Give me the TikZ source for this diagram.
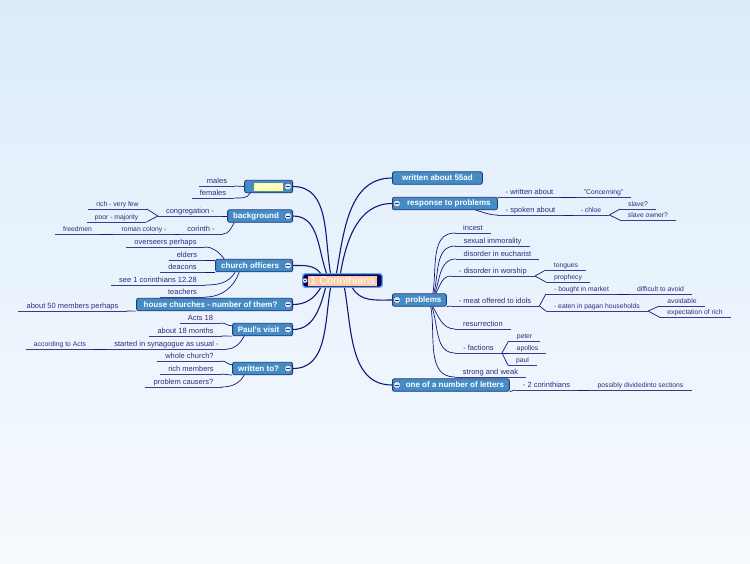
\documentclass[tikz,border=0pt]{standalone}
\usepackage{fontspec}
\setmainfont{Liberation Sans}
\usepackage{tikz}
\definecolor{bgtop}{RGB}{221, 236, 250}
\definecolor{bgbot}{RGB}{246, 250, 254}
\definecolor{ln}{RGB}{22, 22, 122}
\definecolor{lf}{RGB}{45, 45, 125}
\definecolor{bx}{RGB}{70, 140, 196}
\definecolor{bxd}{RGB}{28, 58, 128}
\definecolor{rootd}{RGB}{0, 0, 102}
\definecolor{rootb}{RGB}{105, 168, 216}
\definecolor{sal}{RGB}{255, 202, 165}
\definecolor{yl}{RGB}{255, 255, 150}
\definecolor{ic}{RGB}{222, 232, 242}

\tikzset{
  main/.style={line width=1.1pt, color=ln},
  sub/.style={line width=0.7pt, color=ln},
  ul/.style={draw=ln!85!white, line width=0.7pt},
  topic/.style={draw=bxd, fill=bx, line width=0.8pt, rounded corners=2pt, text=white,
    font=\bfseries\fontsize{8}{9}\selectfont, minimum height=12.5pt, inner sep=0pt},
  leaf/.style={font=\fontsize{7.5}{8}\selectfont, text=lf, inner xsep=8pt, inner ysep=1.2pt,
    text height=5.5pt, text depth=1.6pt, anchor=south,
    append after command={(\tikzlastnode.south west) edge[ul] (\tikzlastnode.south east)}},
  twig/.style={leaf, font=\fontsize{6.8}{7.5}\selectfont},
  fold/.style={draw=bxd, fill=ic, rounded corners=1pt, minimum size=6pt, inner sep=0pt,
    path picture={\draw[bxd, line width=0.9pt] ([xshift=1.4pt]path picture bounding box.west) -- ([xshift=-1.4pt]path picture bounding box.east);}},
}

\begin{document}
\begin{tikzpicture}
\shade[top color=bgtop, bottom color=bgbot] (0pt,0pt) rectangle (750pt,-563pt);
\useasboundingbox (0pt,0pt) rectangle (750pt,-563pt);

% central topic
\node (root) [draw=rootb, fill=rootd, line width=1.4pt, rounded corners=2.5pt, minimum width=79.5pt, minimum height=13.5pt, inner sep=0pt] at (342.5pt, -280.5pt) {};
\node (title) [fill=sal, text=white, font=\fontsize{11}{12}\selectfont, minimum width=69pt, minimum height=10pt, inner sep=0pt] at (342.5pt, -280.5pt) {1 Corinthians};
\node (rootf) [fold, minimum size=4.5pt] at (305pt, -280.5pt) {};

% left topics
\node (patrons) [topic, minimum width=48pt, anchor=east] at (293pt, -186.5pt) {};
\node (patronstxt) [fill=yl, text=white, font=\bfseries\fontsize{7}{8}\selectfont, minimum width=29pt, minimum height=8pt, inner sep=0pt] at (268.5pt, -187pt) {patrons};
\node (bg) [topic, minimum width=65pt, anchor=east] at (293pt, -216pt) {background\hspace*{8pt}};
\node (co) [topic, minimum width=77pt, anchor=east] at (293pt, -265.5pt) {church officers\hspace*{8pt}};
\node (hc) [topic, minimum width=156pt, anchor=east] at (293pt, -304.5pt) {house churches - number of them?\hspace*{8pt}};
\node (pv) [topic, minimum width=60pt, anchor=east] at (293pt, -329.5pt) {Paul's visit\hspace*{8pt}};
\node (wt) [topic, minimum width=60pt, anchor=east] at (293pt, -368.5pt) {written to?\hspace*{8pt}};
\node (patronsf) [fold] at ([xshift=-5pt]patrons.east) {};
\node (bgf) [fold] at ([xshift=-5pt]bg.east) {};
\node (cof) [fold] at ([xshift=-5pt]co.east) {};
\node (hcf) [fold] at ([xshift=-5pt]hc.east) {};
\node (pvf) [fold] at ([xshift=-5pt]pv.east) {};
\node (wtf) [fold] at ([xshift=-5pt]wt.east) {};

% right topics
\node (w55) [topic, minimum width=90pt, anchor=west] at (392pt, -178pt) {written about 55ad};
\node (rp) [topic, minimum width=105pt, anchor=west] at (392pt, -203.5pt) {\hspace*{8pt}response to problems};
\node (pr) [topic, minimum width=54pt, anchor=west] at (392pt, -300pt) {\hspace*{8pt}problems};
\node (letters) [topic, minimum width=117pt, anchor=west] at (392pt, -385pt) {\hspace*{8pt}one of a number of letters};
\node (rpf) [fold] at ([xshift=5pt]rp.west) {};
\node (prf) [fold] at ([xshift=5pt]pr.west) {};
\node (lettersf) [fold] at ([xshift=5pt]letters.west) {};

% left subtopics
\node (males) [leaf] at (217pt, -186pt) {males};
\node (females) [leaf] at (213pt, -198pt) {females};
\node (congr) [leaf] at (190pt, -216pt) {congregation -};
\node (rich) [twig] at (117.5pt, -209pt) {rich - very few};
\node (poor) [twig] at (116.5pt, -222pt) {poor - majority};
\node (corinth) [leaf] at (201pt, -234pt) {corinth -};
\node (roman) [twig] at (144pt, -234pt) {roman colony -};
\node (freedmen) [twig] at (77.5pt, -234pt) {freedmen};
\node (overseers) [leaf] at (165.5pt, -247pt) {overseers perhaps};
\node (elders) [leaf] at (187pt, -260pt) {elders};
\node (deacons) [leaf] at (182.5pt, -272pt) {deacons};
\node (cor12) [leaf] at (158pt, -285pt) {see 1 corinthians 12.28};
\node (teachers) [leaf] at (182.5pt, -297pt) {teachers};
\node (members) [leaf] at (72.5pt, -311pt) {about 50 members perhaps};
\node (acts) [leaf] at (200.5pt, -323pt) {Acts 18};
\node (months) [leaf] at (185.5pt, -336pt) {about 18 months};
\node (synagogue) [leaf] at (166.5pt, -349pt) {started in synagogue as usual -};
\node (according) [twig] at (60pt, -349pt) {according to Acts};
\node (whole) [leaf] at (189.5pt, -361pt) {whole church?};
\node (richm) [leaf] at (191pt, -374pt) {rich members};
\node (causers) [leaf] at (183.5pt, -387pt) {problem causers?};

% right subtopics
\node (wabout) [leaf] at (529.5pt, -197pt) {- written about};
\node (concern) [twig] at (603.5pt, -197pt) {"Concerning"};
\node (spoken) [leaf] at (530.5pt, -215pt) {- spoken about};
\node (chloe) [twig] at (591pt, -215pt) {- chloe};
\node (slave) [twig] at (638pt, -209pt) {slave?};
\node (owner) [twig] at (648pt, -220pt) {slave owner?};
\node (incest) [leaf] at (473pt, -233pt) {incest};
\node (sexual) [leaf] at (492.5pt, -246pt) {sexual immorality};
\node (eucharist) [leaf] at (497.5pt, -259pt) {disorder in eucharist};
\node (worship) [leaf] at (493pt, -276pt) {- disorder in worship};
\node (tongues) [twig] at (566pt, -270pt) {tongues};
\node (prophecy) [twig] at (568pt, -282pt) {prophecy};
\node (idols) [leaf] at (495pt, -306pt) {- meat offered to idols};
\node (market) [twig] at (581.5pt, -294pt) {- bought in market};
\node (difficult) [twig] at (660.5pt, -294pt) {difficult to avoid};
\node (eaten) [twig] at (597pt, -311pt) {- eaten in pagan households};
\node (avoidable) [twig] at (682pt, -306pt) {avoidable};
\node (rich2) [twig] at (695pt, -317pt) {expectation of rich};
\node (resur) [leaf] at (483pt, -329pt) {resurrection};
\node (factions) [leaf] at (478.5pt, -353pt) {- factions};
\node (peter) [twig] at (524.5pt, -341pt) {peter};
\node (apollos) [twig] at (527.5pt, -353pt) {apollos};
\node (paul) [twig] at (522.5pt, -365pt) {paul};
\node (strong) [leaf] at (490.5pt, -377pt) {strong and weak};
\node (cor2) [leaf] at (546.5pt, -390pt) {- 2 corinthians};
\node (sections) [twig] at (640.5pt, -390pt) {possibly dividedinto sections};

% main branches
\draw [main] ([xshift=-12pt]root.north) to [out=100, in=0] (patrons.east);
\draw [main] ([xshift=-16pt]root.north) to [out=110, in=0] (bg.east);
\draw [main] ([xshift=-22pt]root.north) to [out=130, in=0] (co.east);
\draw [main] ([xshift=-22pt]root.south) to [out=-120, in=0] (hc.east);
\draw [main] ([xshift=-17pt]root.south) to [out=-105, in=0] (pv.east);
\draw [main] ([xshift=-12pt]root.south) to [out=-100, in=0] (wt.east);
\draw [main] ([xshift=-6pt]root.north) to [out=80, in=180] (w55.west);
\draw [main] ([xshift=-2pt]root.north) to [out=80, in=180] (rp.west);
\draw [main] ([xshift=10pt]root.south) to [out=-60, in=180] (pr.west);
\draw [main] ([xshift=2pt]root.south) to [out=-80, in=180] (letters.west);

% left sub branches
\draw [sub] (males.south east) to [out=0, in=180] (patrons.west);
\draw [sub] (females.south east) to [out=0, in=-120] ([xshift=6pt]patrons.south west);
\draw [sub] (congr.south east) -- (bg.west);
\draw [sub] (rich.south east) -- (congr.south west);
\draw [sub] (poor.south east) -- (congr.south west);
\draw [sub] (corinth.south east) to [out=0, in=-120] ([xshift=7pt]bg.south west);
\draw [sub] (roman.south east) -- (corinth.south west);
\draw [sub] (freedmen.south east) -- (roman.south west);
\draw [sub] (overseers.south east) to [out=0, in=130] ([xshift=9pt]co.north west);
\draw [sub] (elders.south east) -- (co.west |- elders.south east);
\draw [sub] (deacons.south east) -- (co.west |- deacons.south east);
\draw [sub] (cor12.south east) to [out=0, in=-120] ([xshift=20pt]co.south west);
\draw [sub] (teachers.south east) to [out=0, in=-110] ([xshift=24pt]co.south west);
\draw [sub] (members.south east) -- (hc.south west);
\draw [sub] (acts.south east) to [out=0, in=180] ([yshift=-3pt]pv.north west);
\draw [sub] (months.south east) -- (pv.south west);
\draw [sub] (synagogue.south east) to [out=0, in=-120] ([xshift=12pt]pv.south west);
\draw [sub] (according.south east) -- (synagogue.south west);
\draw [sub] (whole.south east) to [out=0, in=180] ([yshift=-3pt]wt.north west);
\draw [sub] (richm.south east) -- (wt.south west);
\draw [sub] (causers.south east) to [out=0, in=-120] ([xshift=12pt]wt.south west);

% right sub branches
\draw [sub] (rp.north east) -- (wabout.south west);
\draw [sub] (wabout.south east) -- (concern.south west);
\draw [sub] ([xshift=-22pt]rp.south east) to [out=-15, in=180] (spoken.south west);
\draw [sub] (spoken.south east) -- (chloe.south west);
\draw [sub] (chloe.south east) -- (slave.south west);
\draw [sub] (chloe.south east) -- (owner.south west);
\draw [sub] ([xshift=-14pt]pr.north east) to [out=80, in=180] (incest.south west);
\draw [sub] ([xshift=-13pt]pr.north east) to [out=75, in=180] (sexual.south west);
\draw [sub] ([xshift=-12pt]pr.north east) to [out=70, in=180] (eucharist.south west);
\draw [sub] ([xshift=-11pt]pr.north east) to [out=60, in=180] (worship.south west);
\draw [sub] (pr.south east) -- (idols.south west);
\draw [sub] ([xshift=-14pt]pr.south east) to [out=-60, in=180] (resur.south west);
\draw [sub] ([xshift=-15pt]pr.south east) to [out=-70, in=180] (factions.south west);
\draw [sub] ([xshift=-16pt]pr.south east) to [out=-80, in=180] (strong.south west);
\draw [sub] (worship.south east) -- (tongues.south west);
\draw [sub] (worship.south east) -- (prophecy.south west);
\draw [sub] (idols.south east) -- (market.south west);
\draw [sub] (idols.south east) -- (eaten.south west);
\draw [sub] (market.south east) -- (difficult.south west);
\draw [sub] (eaten.south east) -- (avoidable.south west);
\draw [sub] (eaten.south east) -- (rich2.south west);
\draw [sub] (factions.south east) -- (peter.south west);
\draw [sub] (factions.south east) -- (apollos.south west);
\draw [sub] (factions.south east) -- (paul.south west);
\draw [sub] (letters.south east) -- (cor2.south west);
\draw [sub] (cor2.south east) -- (sections.south west);
\end{tikzpicture}
\end{document}
